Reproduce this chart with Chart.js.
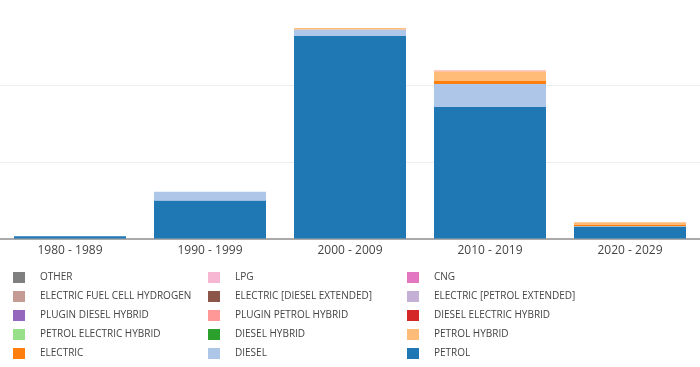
<!DOCTYPE html>
<html>
<head>
<meta charset="utf-8">
<script src="https://cdn.jsdelivr.net/npm/chart.js@4"></script>
<style>
  html, body { margin: 0; padding: 0; background: #fff; }
  #wrap { width: 700px; height: 367px; position: relative; }
</style>
</head>
<body>
<div id="wrap"><canvas id="fuelChart"></canvas></div>
<script>
const decades = ["1980 - 1989", "1990 - 1999", "2000 - 2009", "2010 - 2019", "2020 - 2029"];

// vehicle counts per decade, bottom of the stack first
const petrol                 = [180, 2500, 13210, 8600, 800];
const diesel                 = [0, 585, 410, 1490, 30];
const electric               = [0, 0, 0, 195, 110];
const petrolHybrid           = [0, 0, 110, 615, 150];
const dieselHybrid           = [0, 0, 0, 0, 0];
const petrolElectricHybrid   = [0, 0, 0, 0, 0];
const dieselElectricHybrid   = [0, 0, 0, 0, 0];
const pluginPetrolHybrid     = [0, 0, 0, 60, 0];
const pluginDieselHybrid     = [0, 0, 0, 0, 0];
const electricPetrolExtended = [0, 0, 0, 0, 0];
const electricDieselExtended = [0, 0, 0, 0, 0];
const electricFuelCell       = [0, 0, 0, 0, 0];
const cng                    = [0, 0, 0, 0, 0];
const lpg                    = [0, 0, 0, 0, 0];
const other                  = [0, 0, 0, 0, 0];

const seriesNames = [
    "PETROL", "DIESEL", "ELECTRIC", "PETROL HYBRID", "DIESEL HYBRID",
    "PETROL ELECTRIC HYBRID", "DIESEL ELECTRIC HYBRID", "PLUGIN PETROL HYBRID", "PLUGIN DIESEL HYBRID",
    "ELECTRIC [PETROL EXTENDED]", "ELECTRIC [DIESEL EXTENDED]", "ELECTRIC FUEL CELL HYDROGEN",
    "CNG", "LPG", "OTHER"
];
const seriesValues = [
    petrol, diesel, electric, petrolHybrid, dieselHybrid,
    petrolElectricHybrid, dieselElectricHybrid, pluginPetrolHybrid, pluginDieselHybrid,
    electricPetrolExtended, electricDieselExtended, electricFuelCell,
    cng, lpg, other
];
const seriesColors = [
    "#1f77b4", "#aec7e8", "#ff7f0e", "#ffbb78", "#2ca02c",
    "#98df8a", "#d62728", "#ff9896", "#9467bd",
    "#c5b0d5", "#8c564b", "#c49c94",
    "#e377c2", "#f7b6d2", "#7f7f7f"
];

const datasets = seriesNames.map((name, i) => ({
    label: name,
    data: seriesValues[i],
    backgroundColor: seriesColors[i],
    borderWidth: 0
}));

// legend in three fixed columns under the plot, last series first
const gridLegend = {
    id: 'gridLegend',
    afterDraw(chart) {
        const ctx = chart.ctx;
        const items = chart.data.datasets.slice().reverse();
        const colX = [13, 208, 407];
        ctx.save();
        ctx.font = '10px "Open Sans"';
        ctx.textBaseline = 'middle';
        items.forEach((ds, i) => {
            const col = i % 3, row = Math.floor(i / 3);
            const x = colX[col];
            const y = 277 + row * 19;
            ctx.fillStyle = ds.backgroundColor;
            ctx.fillRect(x, y - 5, 12, 11);
            ctx.fillStyle = '#444';
            ctx.fillText(ds.label, x + 27, y + 0.5);
        });
        ctx.restore();
    }
};

new Chart(document.getElementById("fuelChart"), {
    type: 'bar',
    data: { labels: decades, datasets: datasets },
    options: {
        responsive: true,
        maintainAspectRatio: false,
        animation: false,
        events: [],
        layout: { padding: { top: 8.5, left: 0, right: 0, bottom: 105.5 } },
        datasets: { bar: { categoryPercentage: 0.8, barPercentage: 1 } },
        plugins: { legend: { display: false }, tooltip: { enabled: false } },
        scales: {
            x: {
                stacked: true,
                grid: { display: false, drawTicks: false },
                border: { display: true, color: '#aaa', width: 2 },
                ticks: { color: '#444', font: { family: 'Open Sans', size: 12 }, padding: 4 }
            },
            y: {
                stacked: true,
                min: 0,
                max: 15000,
                grid: {
                    drawTicks: false,
                    color: ctx => (ctx.tick && (ctx.tick.value === 0 || ctx.tick.value === 15000)) ? 'rgba(0,0,0,0)' : '#eee'
                },
                border: { display: false },
                ticks: { display: false, stepSize: 5000 }
            }
        }
    },
    plugins: [gridLegend]
});
</script>
</body>
</html>
